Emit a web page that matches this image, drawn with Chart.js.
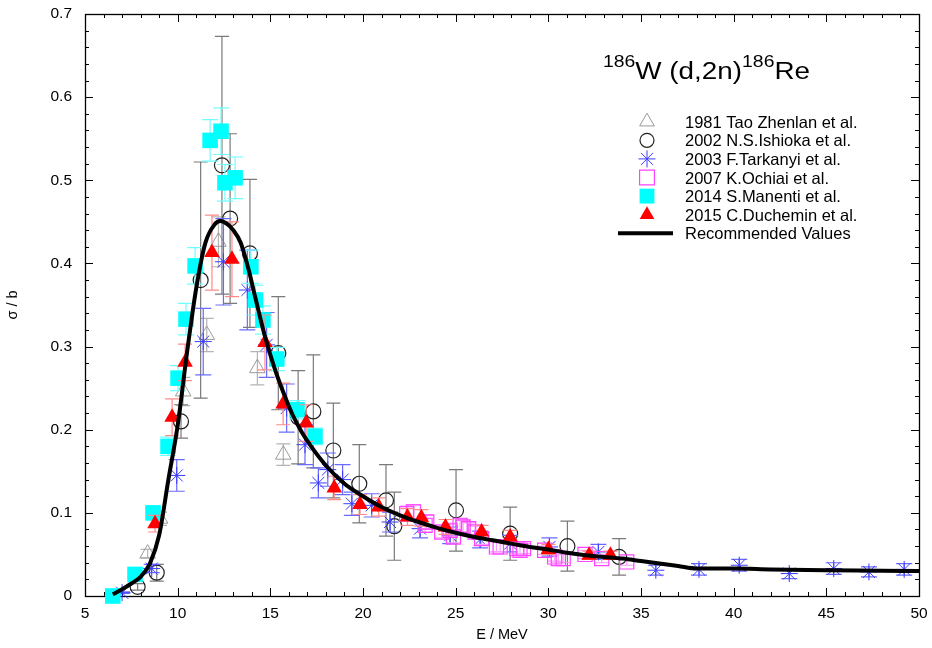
<!DOCTYPE html>
<html><head><meta charset="utf-8">
<script src="https://cdn.jsdelivr.net/npm/chart.js@4.4.1/dist/chart.umd.min.js"></script>
<style>html,body{margin:0;padding:0;background:#fff;}#wrap{position:relative;width:932px;height:648px;}</style>
</head><body><div id="wrap"><canvas id="c" width="932" height="648"></canvas></div>
<script>
// ---- axis ticks ----
const xTicks = [5, 10, 15, 20, 25, 30, 35, 40, 45, 50];
const yTicks = [0, 0.1, 0.2, 0.3, 0.4, 0.5, 0.6, 0.7];
const yTickLabels = ['0', '0.1', '0.2', '0.3', '0.4', '0.5', '0.6', '0.7'];
const xMinorPerMajor = 5;
const yMinorPerMajor = 5;

// ---- 1981 Tao Zhenlan et al. ----
const taoX = [8.38, 9.05, 10.3, 11.57, 12.2, 14.3, 15.7];
const taoY = [0.051, 0.093, 0.246, 0.314, 0.426, 0.274, 0.170];
const taoErr = [0.005, 0.008, 0.017, 0.020, 0.030, 0.020, 0.013];

// ---- 2002 N.S.Ishioka et al. ----
const ishX = [7.84, 8.87, 10.18, 11.24, 12.39, 12.83, 13.9, 15.43, 16.5, 17.32, 18.4, 19.8, 21.24, 21.69, 25.02, 27.94, 31.03, 33.82];
const ishY = [0.011, 0.028, 0.210, 0.380, 0.518, 0.454, 0.412, 0.292, 0.215, 0.222, 0.175, 0.135, 0.115, 0.084, 0.103, 0.075, 0.060, 0.047];
const ishErr = [0.004, 0.010, 0.020, 0.142, 0.155, 0.102, 0.089, 0.068, 0.056, 0.068, 0.057, 0.047, 0.043, 0.041, 0.049, 0.032, 0.030, 0.022];

// ---- 2003 F.Tarkanyi et al. ----
const tarX = [7.0, 8.6, 9.95, 11.38, 12.47, 13.76, 14.8, 15.88, 16.87, 17.59, 18.1, 18.9, 19.4, 20.47, 21.46, 23.08, 24.7, 26.32, 27.94, 30.06, 32.7, 35.8, 38.13, 40.3, 43.0, 45.4, 47.3, 49.2];
const tarY = [0.004, 0.033, 0.145, 0.306, 0.402, 0.368, 0.302, 0.226, 0.182, 0.136, 0.152, 0.140, 0.111, 0.109, 0.089, 0.081, 0.073, 0.068, 0.063, 0.059, 0.053, 0.031, 0.032, 0.037, 0.027, 0.033, 0.029, 0.032];
const tarErr = [0.001, 0.005, 0.019, 0.040, 0.052, 0.048, 0.039, 0.029, 0.024, 0.018, 0.020, 0.018, 0.014, 0.014, 0.012, 0.011, 0.010, 0.010, 0.010, 0.011, 0.009, 0.006, 0.007, 0.007, 0.006, 0.007, 0.006, 0.007];

// ---- 2007 K.Ochiai et al. ----
const ochX = [22.36, 22.72, 23.35, 23.44, 24.25, 24.7, 24.88, 25.24, 25.4, 25.7, 26.05, 26.4, 27.2, 27.4, 28.3, 28.47, 28.66, 29.8, 30.34, 30.54, 30.8, 31.98, 32.88, 34.23];
const ochY = [0.099, 0.101, 0.085, 0.089, 0.077, 0.079, 0.071, 0.085, 0.083, 0.081, 0.077, 0.069, 0.059, 0.059, 0.057, 0.055, 0.057, 0.055, 0.047, 0.045, 0.045, 0.050, 0.045, 0.041];
const ochErr = [0.009, 0.009, 0.008, 0.008, 0.007, 0.007, 0.007, 0.008, 0.008, 0.007, 0.007, 0.007, 0.006, 0.006, 0.006, 0.005, 0.006, 0.005, 0.005, 0.005, 0.005, 0.005, 0.005, 0.004];

// ---- 2014 S.Manenti et al. ----
const manX = [6.5, 7.7, 8.67, 9.48, 10.02, 10.45, 10.94, 11.75, 12.34, 12.55, 13.1, 13.95, 14.2, 14.6, 15.35, 16.44, 17.41];
const manY = [0.0, 0.026, 0.100, 0.180, 0.262, 0.333, 0.397, 0.548, 0.559, 0.497, 0.503, 0.396, 0.356, 0.332, 0.285, 0.224, 0.192];
const manErr = [0.001, 0.003, 0.006, 0.011, 0.015, 0.019, 0.022, 0.025, 0.028, 0.022, 0.025, 0.020, 0.018, 0.017, 0.014, 0.011, 0.010];

// ---- 2015 C.Duchemin et al. ----
const dukX = [8.78, 9.7, 10.4, 11.85, 12.93, 14.71, 15.69, 16.93, 18.45, 19.84, 20.85, 22.4, 23.15, 24.45, 26.4, 27.94, 30.0, 32.2, 33.35];
const dukY = [0.087, 0.215, 0.281, 0.413, 0.405, 0.305, 0.231, 0.208, 0.130, 0.110, 0.107, 0.095, 0.094, 0.083, 0.077, 0.071, 0.056, 0.049, 0.049];
const dukErr = [0.010, 0.022, 0.022, 0.045, 0.045, 0.033, 0.025, 0.022, 0.014, 0.012, 0.011, 0.010, 0.010, 0.009, 0.008, 0.008, 0.006, 0.005, 0.005];

// ---- Recommended Values ----
const recX = [6.5, 7.0, 7.5, 8.0, 8.5, 9.0, 9.5, 10.0, 10.5, 11.0, 11.5, 12.0, 12.3, 12.7, 13.0, 13.4, 13.8, 14.2, 14.7, 15.2, 15.7, 16.2, 16.7, 17.2, 18.0, 19.0, 20.0, 21.0, 22.0, 23.0, 24.0, 25.0, 26.0, 27.0, 28.0, 29.0, 30.0, 31.0, 32.0, 33.0, 34.0, 35.0, 36.0, 37.0, 38.0, 40.0, 42.0, 45.0, 48.0, 50.0];
const recY = [0.002, 0.008, 0.015, 0.023, 0.039, 0.073, 0.140, 0.205, 0.292, 0.370, 0.425, 0.447, 0.451, 0.447, 0.440, 0.425, 0.395, 0.358, 0.313, 0.276, 0.245, 0.218, 0.197, 0.180, 0.157, 0.135, 0.120, 0.107, 0.097, 0.089, 0.082, 0.076, 0.071, 0.067, 0.063, 0.059, 0.056, 0.052, 0.049, 0.047, 0.045, 0.042, 0.039, 0.036, 0.033, 0.033, 0.032, 0.031, 0.0305, 0.030];

const legendLabels = ['1981 Tao Zhenlan et al.', '2002 N.S.Ishioka et al.', '2003 F.Tarkanyi et al.', '2007 K.Ochiai et al.', '2014 S.Manenti et al.', '2015 C.Duchemin et al.', 'Recommended Values'];
const titleParts = [['186', true], ['W (d,2n)', false], ['186', true], ['Re', false]];
const xTitle = 'E / MeV';
const yTitle = 'σ / b';

const pts = (xs, ys) => xs.map((x, i) => ({x: x, y: ys[i]}));
const FONT = '"Liberation Sans", Arial, Helvetica, sans-serif';

function scatterSet(label, xs, ys, errs, o) {
  return Object.assign({
    type: 'scatter', label: label, data: pts(xs, ys), errors: errs,
    showLine: false, clip: false, pointBorderWidth: 1
  }, o);
}

const datasets = [
  scatterSet(legendLabels[0], taoX, taoY, taoErr, {order: 6, pointStyle: 'triangle', pointRadius: 9,
    pointBorderColor: '#9a9a9a', pointBackgroundColor: 'rgba(0,0,0,0)', errorColor: '#b4b4b4', cap: 7}),
  scatterSet(legendLabels[1], ishX, ishY, ishErr, {order: 5, pointStyle: 'circle', pointRadius: 7.5,
    pointBorderColor: '#222', pointBackgroundColor: 'rgba(0,0,0,0)', pointBorderWidth: 1.2, errorColor: '#7a7a7a', cap: 7}),
  scatterSet(legendLabels[2], tarX, tarY, tarErr, {order: 4, pointStyle: 'star', pointRadius: 8.5,
    pointBorderColor: '#3b3bff', pointBackgroundColor: 'rgba(0,0,0,0)', errorColor: '#6a6aff', cap: 8}),
  scatterSet(legendLabels[3], ochX, ochY, ochErr, {order: 3, pointStyle: 'rect', pointRadius: 10,
    pointBorderColor: '#ff44ff', pointBackgroundColor: 'rgba(0,0,0,0)', pointBorderWidth: 1.2, errorColor: '#ff99ff', cap: 7}),
  scatterSet(legendLabels[4], manX, manY, manErr, {order: 2, pointStyle: 'rect', pointRadius: 11,
    pointBorderColor: '#00ffff', pointBackgroundColor: '#00ffff', pointBorderWidth: 0, errorColor: '#70ffff', cap: 8}),
  scatterSet(legendLabels[5], dukX, dukY, dukErr, {order: 1, pointStyle: 'triangle', pointRadius: 9,
    pointBorderColor: '#ff0000', pointBackgroundColor: '#ff0000', pointBorderWidth: 0, errorColor: '#ff8a8a', cap: 7}),
  {type: 'line', label: legendLabels[6], data: pts(recX, recY), order: 0, borderColor: '#000', borderWidth: 4,
    pointRadius: 0, fill: false, cubicInterpolationMode: 'monotone', showLine: true}
];

const errorBars = {
  id: 'errorBars',
  beforeDatasetDraw(chart, args) {
    const ds = chart.data.datasets[args.index];
    if (!ds.errors) return;
    const {ctx, chartArea: a} = chart;
    const xs = chart.scales.x, ys = chart.scales.y;
    ctx.save();
    ctx.beginPath(); ctx.rect(a.left, a.top, a.right - a.left, a.bottom - a.top); ctx.clip();
    ctx.strokeStyle = ds.errorColor; ctx.lineWidth = 1.2;
    ds.data.forEach((p, i) => {
      const e = ds.errors[i];
      const px = xs.getPixelForValue(p.x);
      const y1 = ys.getPixelForValue(p.y + e), y2 = ys.getPixelForValue(p.y - e);
      ctx.beginPath();
      ctx.moveTo(px, y1); ctx.lineTo(px, y2);
      ctx.moveTo(px - ds.cap, y1); ctx.lineTo(px + ds.cap, y1);
      ctx.moveTo(px - ds.cap, y2); ctx.lineTo(px + ds.cap, y2);
      ctx.stroke();
    });
    ctx.restore();
  }
};

const frame = {
  id: 'frame',
  beforeDatasetsDraw(chart) {
    const {ctx, chartArea: a} = chart;
    const xs = chart.scales.x, ys = chart.scales.y;
    ctx.save();
    ctx.strokeStyle = '#000'; ctx.lineWidth = 1;
    ctx.beginPath();
    for (let i = 0; i < xTicks.length; i++) {
      const step = i < xTicks.length - 1 ? (xTicks[i + 1] - xTicks[i]) / xMinorPerMajor : 0;
      const n = i < xTicks.length - 1 ? xMinorPerMajor : 1;
      for (let k = 0; k < n; k++) {
        const px = Math.round(xs.getPixelForValue(xTicks[i] + k * step)) + 0.5;
        const L = k === 0 ? 8 : 4;
        ctx.moveTo(px, a.bottom); ctx.lineTo(px, a.bottom - L);
        ctx.moveTo(px, a.top); ctx.lineTo(px, a.top + L);
      }
    }
    for (let i = 0; i < yTicks.length; i++) {
      const step = i < yTicks.length - 1 ? (yTicks[i + 1] - yTicks[i]) / yMinorPerMajor : 0;
      const n = i < yTicks.length - 1 ? yMinorPerMajor : 1;
      for (let k = 0; k < n; k++) {
        const py = Math.round(ys.getPixelForValue(yTicks[i] + k * step)) + 0.5;
        const L = k === 0 ? 8 : 4;
        ctx.moveTo(a.left, py); ctx.lineTo(a.left + L, py);
        ctx.moveTo(a.right, py); ctx.lineTo(a.right - L, py);
      }
    }
    ctx.stroke();
    ctx.lineWidth = 1.3;
    ctx.strokeRect(Math.round(a.left) + 0.5, Math.round(a.top) + 0.5, Math.round(a.right - a.left), Math.round(a.bottom - a.top));
    ctx.restore();
  }
};

function drawMarker(ctx, style, cx, cy, r, stroke, fill, lw) {
  ctx.save();
  ctx.strokeStyle = stroke; ctx.fillStyle = fill; ctx.lineWidth = lw;
  ctx.beginPath();
  if (style === 'triangle') {
    ctx.moveTo(cx, cy - r); ctx.lineTo(cx + 0.866 * r, cy + 0.5 * r); ctx.lineTo(cx - 0.866 * r, cy + 0.5 * r); ctx.closePath();
  } else if (style === 'circle') {
    ctx.arc(cx, cy, r, 0, Math.PI * 2);
  } else if (style === 'rect') {
    const s = r * Math.SQRT1_2; ctx.rect(cx - s, cy - s, 2 * s, 2 * s);
  } else if (style === 'star') {
    const d = r * Math.SQRT1_2;
    ctx.moveTo(cx - r, cy); ctx.lineTo(cx + r, cy); ctx.moveTo(cx, cy - r); ctx.lineTo(cx, cy + r);
    ctx.moveTo(cx - d, cy - d); ctx.lineTo(cx + d, cy + d); ctx.moveTo(cx - d, cy + d); ctx.lineTo(cx + d, cy - d);
  }
  if (fill !== 'none') ctx.fill();
  if (lw > 0) ctx.stroke();
  ctx.restore();
}

const legendAndTitle = {
  id: 'legendAndTitle',
  afterDraw(chart) {
    const ctx = chart.ctx;
    // title
    ctx.save();
    const mainF = '23px ' + FONT, supF = '16px ' + FONT;
    let w = 0;
    titleParts.forEach(p => { ctx.font = p[1] ? supF : mainF; w += ctx.measureText(p[0]).width; });
    const s = 207 / w;
    ctx.translate(603, 0); ctx.scale(s, 1);
    ctx.fillStyle = '#000'; ctx.textBaseline = 'alphabetic'; ctx.textAlign = 'left';
    let x = 0;
    titleParts.forEach(p => {
      ctx.font = p[1] ? supF : mainF;
      ctx.fillText(p[0], x, p[1] ? 67 : 79);
      x += ctx.measureText(p[0]).width;
    });
    ctx.restore();
    // legend
    ctx.save();
    ctx.font = '16.5px ' + FONT; ctx.fillStyle = '#000'; ctx.textBaseline = 'alphabetic'; ctx.textAlign = 'left';
    const mx = 647, tx = 685, y0 = 121.7, dy = 18.6;
    chart.data.datasets.forEach((ds, i) => {
      const cy = y0 + i * dy;
      if (ds.type === 'line') {
        ctx.save(); ctx.strokeStyle = '#000'; ctx.lineWidth = 4;
        ctx.beginPath(); ctx.moveTo(618, cy); ctx.lineTo(673, cy); ctx.stroke(); ctx.restore();
      } else {
        const filled = ds.pointBackgroundColor !== 'rgba(0,0,0,0)';
        drawMarker(ctx, ds.pointStyle, mx, cy, ds.pointStyle === 'rect' ? 10.5 : (ds.pointStyle === 'circle' ? 7 : 8.5),
          ds.pointBorderColor, filled ? ds.pointBackgroundColor : 'none', filled ? 0 : (ds.pointBorderWidth || 1));
      }
      ctx.fillText(ds.label, tx, cy + 6);
    });
    ctx.restore();
  }
};

new Chart(document.getElementById('c'), {
  type: 'scatter',
  data: {datasets: datasets},
  options: {
    responsive: false, animation: false, devicePixelRatio: 1, events: [],
    layout: {padding: {left: 0, top: 14, right: 13, bottom: 0}},
    plugins: {legend: {display: false}, tooltip: {enabled: false}},
    scales: {
      x: {
        type: 'linear', min: 5, max: 50,
        afterBuildTicks: ax => { ax.ticks = xTicks.map(v => ({value: v})); },
        afterFit: ax => { ax.height = 52; },
        grid: {display: false, drawTicks: true, tickLength: 8}, border: {display: false},
        ticks: {padding: 0, color: '#000', font: {family: FONT, size: 15.5}, maxRotation: 0, autoSkip: false,
          callback: v => String(v)},
        title: {display: true, text: xTitle, color: '#000', font: {family: FONT, size: 14.5}, padding: {top: 0, bottom: 4}}
      },
      y: {
        type: 'linear', min: 0, max: 0.7,
        afterBuildTicks: ax => { ax.ticks = yTicks.map(v => ({value: v})); },
        afterFit: ax => { ax.width = 85; },
        grid: {display: false, drawTicks: true, tickLength: 13}, border: {display: false},
        ticks: {padding: 0, color: '#000', font: {family: FONT, size: 15.5}, autoSkip: false,
          callback: (v, i) => yTickLabels[i]},
        title: {display: true, text: yTitle, color: '#000', font: {family: FONT, size: 14.5}, padding: {top: 4, bottom: 0}}
      }
    }
  },
  plugins: [errorBars, frame, legendAndTitle]
});
</script>
</body></html>
